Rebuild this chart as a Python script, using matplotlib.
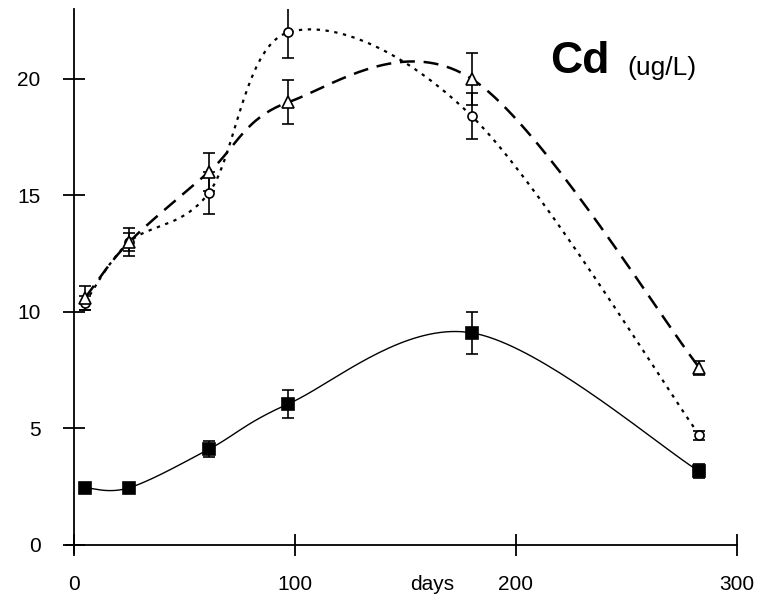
import numpy as np
import matplotlib
matplotlib.use("Agg")
from matplotlib import pyplot as plt

plt.rcParams["font.family"] = ["Liberation Sans", "DejaVu Sans"]

FONTSIZE = 15

# sampling days
days = [5, 25, 61, 97, 180, 283]

# filled squares, solid line
sq_y = [2.45, 2.45, 4.1, 6.05, 9.1, 3.15]
sq_err = [0.2, 0.2, 0.35, 0.6, 0.9, 0.3]

# open circles, dotted line
ci_y = [10.4, 13.0, 15.1, 22.0, 18.4, 4.7]
ci_err = [0.3, 0.4, 0.9, 1.1, 1.0, 0.2]

# open triangles, dashed line
tr_y = [10.6, 13.0, 16.0, 19.0, 20.0, 7.6]
tr_err = [0.5, 0.6, 0.8, 0.95, 1.1, 0.3]


def smooth(xs, ys, n=40):
    # excel-like smoothed line (catmull-rom in screen proportions)
    sx, sy = 2.21, 23.3
    p = np.column_stack([np.asarray(xs) * sx, np.asarray(ys) * sy])
    p = np.vstack([p[0], p, p[-1]])
    out = []
    t = np.linspace(0, 1, n)[:, None]
    for i in range(1, len(p) - 2):
        p0, p1, p2, p3 = p[i - 1], p[i], p[i + 1], p[i + 2]
        c1 = p1 + (p2 - p0) / 6
        c2 = p2 - (p3 - p1) / 6
        seg = ((1 - t) ** 3) * p1 + 3 * ((1 - t) ** 2) * t * c1 + 3 * (1 - t) * t ** 2 * c2 + t ** 3 * p2
        out.append(seg)
    out = np.vstack(out)
    return out[:, 0] / sx, out[:, 1] / sy


fig = plt.figure(figsize=(7.72, 6.03), dpi=100)
ax = fig.add_axes([66 / 772, 1 - 553 / 603, (737 - 66) / 772, (553 - 9) / 603])

ax.set_xlim(-3.6, 300)
ax.set_ylim(-0.35, 23)

for ys, errs, ls, lw, marker, face, ms in [
    (sq_y, sq_err, "-", 1.0, "s", "black", 8),
    (ci_y, ci_err, (0, (1.5, 2.5)), 1.6, "o", "white", 6.5),
    (tr_y, tr_err, (0, (6, 3.5)), 1.8, "^", "white", 8),
]:
    cx, cy = smooth(days, ys)
    ax.plot(cx, cy, color="black", linestyle=ls, linewidth=lw, zorder=2)
    ax.errorbar(days, ys, yerr=errs, fmt="none", ecolor="black", elinewidth=1.2,
                capsize=4, capthick=1.2, zorder=3)
    ax.plot(days, ys, linestyle="none", marker=marker, markersize=ms,
            markerfacecolor=face, markeredgecolor="black", markeredgewidth=1.2, zorder=4)

for side in ["top", "right"]:
    ax.spines[side].set_visible(False)
ax.spines["left"].set_position(("data", 0))
ax.spines["bottom"].set_position(("data", 0))
for side in ["left", "bottom"]:
    ax.spines[side].set_linewidth(1.3)

ax.set_xticks([0, 100, 200, 300])
ax.set_yticks([0, 5, 10, 15, 20])
ax.tick_params(direction="inout", length=16, width=1.3, labelsize=FONTSIZE, color="black")
ax.tick_params(axis="x", pad=14)
ax.tick_params(axis="y", pad=16)

ax.text(0.545, -0.057, "days", transform=ax.transAxes, ha="center", va="center", fontsize=FONTSIZE)
ax.text(0.722, 0.882, "Cd", transform=ax.transAxes, ha="left", va="baseline",
        fontsize=32, fontweight="bold")
ax.text(0.836, 0.878, "(ug/L)", transform=ax.transAxes, ha="left", va="baseline", fontsize=19)

fig.savefig("out.png", dpi=100)
